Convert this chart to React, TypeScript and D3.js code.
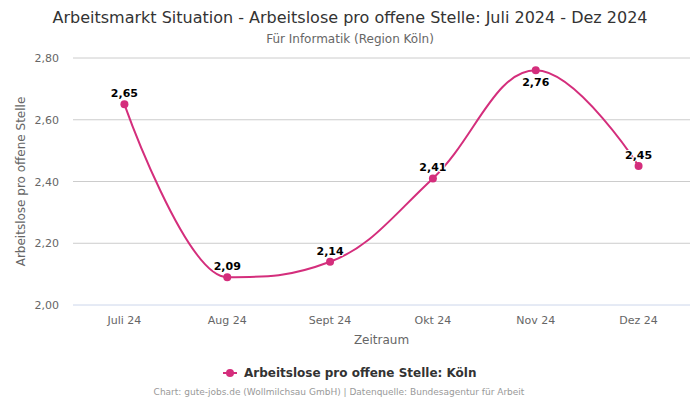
import React from "react";
import * as d3 from "d3";

const categories = ["Juli 24", "Aug 24", "Sept 24", "Okt 24", "Nov 24", "Dez 24"];
const values = [2.65, 2.09, 2.14, 2.41, 2.76, 2.45];
const yTicks = [2.0, 2.2, 2.4, 2.6, 2.8];

const W = 700, H = 400;
const M = { left: 73, right: 690, top: 58, bottom: 305 };
const COLOR = "#d42e7c";
const FONT = "'DejaVu Sans', sans-serif";

const fmt = (v: number) => v.toFixed(2).replace(".", ",");

function splinePath(pts: [number, number][]): string {
  const sm = 1.5, den = sm + 1;
  const ctrl: { l: [number, number]; r: [number, number] }[] = pts.map((p, i) => {
    const [x, y] = p;
    if (i === 0 || i === pts.length - 1) return { l: [x, y], r: [x, y] };
    const [lx, ly] = pts[i - 1];
    const [nx, ny] = pts[i + 1];
    let lcx = (sm * x + lx) / den, lcy = (sm * y + ly) / den;
    let rcx = (sm * x + nx) / den, rcy = (sm * y + ny) / den;
    if (rcx !== lcx) {
      const corr = ((rcy - lcy) * (rcx - x)) / (rcx - lcx) + y - rcy;
      lcy += corr; rcy += corr;
    }
    if (lcy > ly && lcy > y) { lcy = Math.max(ly, y); rcy = 2 * y - lcy; }
    else if (lcy < ly && lcy < y) { lcy = Math.min(ly, y); rcy = 2 * y - lcy; }
    if (rcy > ny && rcy > y) { rcy = Math.max(ny, y); lcy = 2 * y - rcy; }
    else if (rcy < ny && rcy < y) { rcy = Math.min(ny, y); lcy = 2 * y - rcy; }
    return { l: [lcx, lcy], r: [rcx, rcy] };
  });
  const path = d3.path();
  path.moveTo(pts[0][0], pts[0][1]);
  for (let i = 1; i < pts.length; i++) {
    const a = ctrl[i - 1].r, b = ctrl[i].l;
    path.bezierCurveTo(a[0], a[1], b[0], b[1], pts[i][0], pts[i][1]);
  }
  return path.toString();
}

export default function App() {
  const x = d3.scaleBand<string>().domain(categories).range([M.left, M.right]);
  const y = d3.scaleLinear().domain([2.0, 2.8]).range([M.bottom, M.top]);
  const pts: [number, number][] = values.map((v, i) => [x(categories[i])! + x.bandwidth() / 2, y(v)]);
  const d = splinePath(pts);

  return (
    <svg width={W} height={H} style={{ position: "absolute", left: 0, top: 0, fontFamily: FONT }}>
      <rect width={W} height={H} fill="#fff" />
      <text x={350} y={23} textAnchor="middle" fontSize={16} fill="#333">
        Arbeitsmarkt Situation - Arbeitslose pro offene Stelle: Juli 2024 - Dez 2024
      </text>
      <text x={350} y={43} textAnchor="middle" fontSize={12} fill="#666">
        Für Informatik (Region Köln)
      </text>
      {yTicks.map((t) => (
        <g key={t}>
          <line x1={M.left} x2={M.right} y1={y(t)} y2={y(t)} stroke={t === 2.0 ? "#ccd6eb" : "#cccccc"} strokeWidth={1} />
          <text x={59} y={y(t) + 4} textAnchor="end" fontSize={11} fill="#666">{fmt(t)}</text>
        </g>
      ))}
      {categories.map((c) => (
        <text key={c} x={x(c)! + x.bandwidth() / 2} y={324} textAnchor="middle" fontSize={11} fill="#666">{c}</text>
      ))}
      <text x={(M.left + M.right) / 2} y={344} textAnchor="middle" fontSize={12} fill="#666">Zeitraum</text>
      <text transform={`translate(25,${(M.top + M.bottom) / 2}) rotate(-90)`} textAnchor="middle" fontSize={12} fill="#666">
        Arbeitslose pro offene Stelle
      </text>
      <path d={d} fill="none" stroke={COLOR} strokeWidth={2} />
      {pts.map((p, i) => (
        <circle key={i} cx={p[0]} cy={p[1]} r={4} fill={COLOR} />
      ))}
      {pts.map((p, i) => {
        const below = p[1] - 11 < M.top + 10;
        const ly = below ? p[1] + 16 : p[1] - 7;
        return (
          <text key={i} x={p[0]} y={ly} textAnchor="middle" fontSize={11} fontWeight="bold" fill="#000"
            stroke="#fff" strokeWidth={2} strokeLinejoin="round" paintOrder="stroke">
            {fmt(values[i])}
          </text>
        );
      })}
      <line x1={223} x2={237} y1={373} y2={373} stroke={COLOR} strokeWidth={2} />
      <circle cx={230} cy={373} r={4} fill={COLOR} />
      <text x={244} y={377} fontSize={12} fontWeight="bold" fill="#333">Arbeitslose pro offene Stelle: Köln</text>
      <text x={339} y={395} textAnchor="middle" fontSize={9} fill="#999">
        Chart: gute-jobs.de (Wollmilchsau GmbH) | Datenquelle: Bundesagentur für Arbeit
      </text>
    </svg>
  );
}
